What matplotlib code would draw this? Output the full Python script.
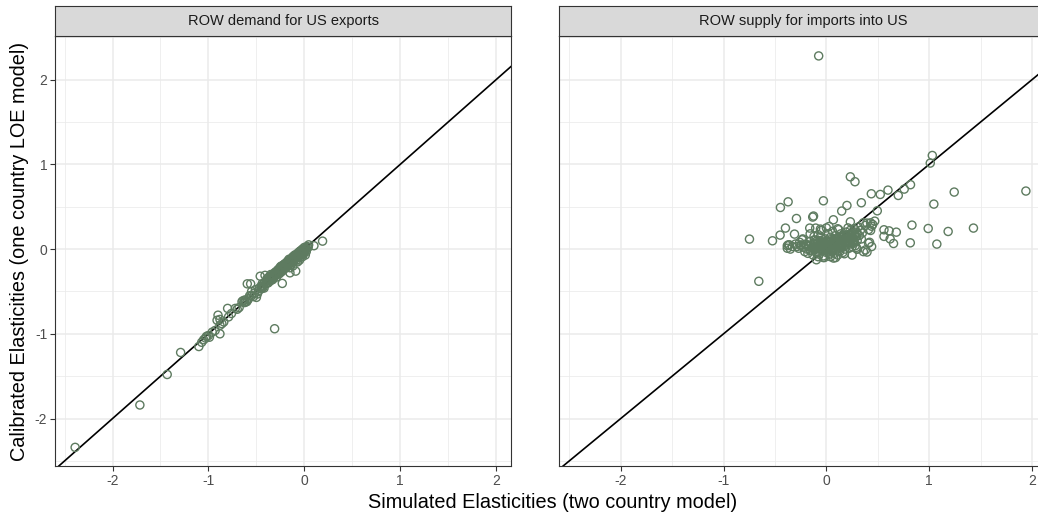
import numpy as np
import matplotlib.pyplot as plt
from matplotlib.ticker import MultipleLocator

plt.rcParams['font.family'] = ['Liberation Sans', 'DejaVu Sans']
plt.rcParams['axes.unicode_minus'] = False

# ROW demand for US exports: simulated (x) vs calibrated (y)
exp_x = [-2.39, -1.715, -1.43, -1.29, -1.10, -1.07, -1.05, -1.03, -1.02, -0.99, -1.00, -0.96,
         -0.93, -0.88, -0.90, -0.91, -0.88, -0.86, -0.84, -0.88, -0.80, -0.79, -0.76, -0.72,
         -0.70, -0.68, -0.65, -0.63, -0.62, -0.60, -0.58, -0.595, -0.56, -0.55, -0.52, -0.50,
         -0.48, -0.47, -0.46, -0.45, -0.43, -0.42, -0.41, -0.40, -0.38, -0.37, -0.36, -0.35,
         -0.31, -0.34, -0.33, -0.32, -0.30, -0.30, -0.29, -0.28, -0.27, -0.26, -0.25, -0.24,
         -0.23, -0.23, -0.22, -0.21, -0.20, -0.19, -0.18, -0.17, -0.16, -0.15, -0.15, -0.14,
         -0.13, -0.12, -0.11, -0.10, -0.09, -0.09, -0.08, -0.07, -0.06, -0.05, -0.04, -0.03,
         -0.02, -0.01, 0.00, 0.01, 0.02, 0.03, 0.045, 0.10, 0.19,
         -0.55, -0.53, -0.51, -0.49, -0.44, -0.42, -0.39, -0.37, -0.33, -0.31, -0.29, -0.27,
         -0.26, -0.25, -0.24, -0.22, -0.21, -0.20, -0.19, -0.18, -0.17, -0.16, -0.14, -0.13,
         -0.12, -0.11, -0.10, -0.08, -0.07, -0.06, -0.05, -0.04, -0.03, -0.02, -0.01, 0.00,
         0.02, 0.04, -0.12, -0.07, -0.15, -0.05, -0.02, 0.01]
exp_y = [-2.34, -1.84, -1.48, -1.22, -1.15, -1.10, -1.07, -1.05, -1.03, -1.04, -1.02, -0.98,
         -0.96, -1.00, -0.78, -0.84, -0.83, -0.88, -0.86, -0.90, -0.70, -0.80, -0.76, -0.70,
         -0.71, -0.69, -0.62, -0.63, -0.60, -0.62, -0.58, -0.41, -0.41, -0.55, -0.52, -0.57,
         -0.50, -0.46, -0.32, -0.44, -0.45, -0.40, -0.31, -0.38, -0.40, -0.33, -0.36, -0.30,
         -0.94, -0.35, -0.30, -0.32, -0.27, -0.31, -0.29, -0.25, -0.28, -0.23, -0.26, -0.20,
         -0.405, -0.24, -0.21, -0.18, -0.22, -0.17, -0.19, -0.14, -0.18, -0.28, -0.13, -0.15,
         -0.11, -0.14, -0.09, -0.12, -0.26, -0.07, -0.10, -0.05, -0.08, -0.03, -0.06, -0.02,
         -0.05, -0.01, -0.03, 0.01, 0.00, 0.03, 0.05, 0.04, 0.094,
         -0.50, -0.56, -0.48, -0.53, -0.41, -0.46, -0.35, -0.39, -0.36, -0.28, -0.33, -0.24,
         -0.29, -0.21, -0.27, -0.25, -0.23, -0.17, -0.22, -0.15, -0.20, -0.12, -0.19, -0.16,
         -0.09, -0.14, -0.07, -0.13, -0.09, -0.04, -0.10, -0.02, -0.07, 0.00, -0.06, 0.02,
         -0.03, 0.02, -0.20, -0.15, -0.22, -0.13, -0.09, -0.07]
# extra points in the dense band near zero
exp_x2 = [-0.34, -0.32, -0.30, -0.28, -0.27, -0.25, -0.23, -0.22, -0.20, -0.19, -0.17, -0.16,
          -0.15, -0.14, -0.13, -0.11, -0.10, -0.09, -0.08, -0.07, -0.06, -0.05, -0.04, -0.03,
          -0.02, -0.01, 0.00, 0.01, -0.45, -0.44, -0.40, -0.39, -0.36, -0.35, -0.57, -0.59,
          -0.62, -0.64]
exp_y2 = [-0.32, -0.34, -0.29, -0.30, -0.26, -0.24, -0.22, -0.19, -0.20, -0.19, -0.17, -0.15,
          -0.16, -0.13, -0.13, -0.11, -0.10, -0.11, -0.07, -0.07, -0.06, -0.06, -0.04, -0.04,
          -0.02, -0.03, 0.00, -0.02, -0.47, -0.44, -0.41, -0.38, -0.33, -0.37, -0.55, -0.60,
          -0.63, -0.61]

# ROW supply for imports into US
imp_x = [-0.075, 1.03, 1.01, 0.233, 0.278, 0.818, 0.757, 0.699, 0.599, 0.524, 0.437, 1.243,
         1.94, 1.045, 0.495, 0.34, 0.20, 0.149, -0.029, -0.372, -0.447, -0.291, -0.133, -0.125,
         0.068, -0.398, -0.45, -0.524, -0.748, -0.657, -0.31, 0.832, 0.99, 1.184, 1.43, 0.816,
         1.074, 0.56, 0.61, 0.68, 0.56, 0.62, 0.653, 0.395, 0.43, 0.45, 0.41, 0.41, 0.38, 0.36,
         0.30, 0.29, -0.097, 0.07, 0.175, -0.162, -0.104, -0.058, -0.158, -0.38, -0.38, -0.285,
         -0.246, -0.236, -0.117, 0.026, 0.12, 0.233, 0.28, 0.298, 0.395, 0.42, 0.43, -0.032,
         0.265, 0.21, 0.44, -0.37, -0.20, -0.08, 0.09, 0.25, 0.47, 0.44, 0.38, 0.36,
         -0.22, -0.21, -0.20, -0.19, -0.18, -0.17, -0.16, -0.15, -0.14, -0.13, -0.12, -0.11,
         -0.10, -0.09, -0.08, -0.07, -0.06, -0.05, -0.04, -0.03, -0.02, -0.01, 0.00, 0.00,
         0.01, 0.02, 0.03, 0.03, 0.04, 0.05, 0.05, 0.06, 0.07, 0.08, 0.08, 0.09,
         0.10, 0.10, 0.11, 0.12, 0.13, 0.13, 0.14, 0.15, 0.15, 0.16, 0.17, 0.18,
         0.18, 0.19, 0.20, 0.20, 0.21, 0.22, 0.23, 0.24, 0.25, 0.25, 0.26, 0.27,
         0.28, 0.29, 0.30, 0.31, 0.32, 0.33, 0.34, 0.35, -0.25, -0.27, -0.30, -0.33,
         -0.35, -0.36, -0.26, -0.23, -0.12, -0.06, 0.02, 0.06, 0.11, -0.02, 0.04, 0.11,
         0.16, 0.22, 0.28, -0.08, 0.00, -0.05]
imp_y = [2.28, 1.105, 1.015, 0.853, 0.795, 0.76, 0.708, 0.633, 0.696, 0.645, 0.653, 0.673,
         0.685, 0.531, 0.452, 0.547, 0.515, 0.449, 0.57, 0.558, 0.491, 0.361, 0.378, 0.39,
         0.346, 0.248, 0.165, 0.098, 0.118, -0.38, 0.177, 0.283, 0.243, 0.208, 0.248, 0.074,
         0.059, 0.228, 0.215, 0.20, 0.15, 0.12, 0.066, 0.307, 0.31, 0.29, 0.23, 0.07, -0.01, -0.03,
         0.00, 0.02, -0.126, -0.106, -0.055, 0.248, 0.248, 0.236, 0.18, 0.04, 0.01, 0.03,
         0.05, 0.11, 0.11, 0.267, 0.23, 0.322, 0.23, 0.00, -0.035, 0.08, 0.22, -0.099,
         0.11, 0.25, 0.03, 0.05, 0.05, -0.09, -0.10, -0.07, 0.33, 0.27, 0.28, 0.31,
         0.02, -0.03, 0.06, 0.00, -0.05, 0.04, 0.09, -0.02, 0.02, -0.07, 0.06, 0.00,
         -0.04, 0.10, 0.03, -0.06, 0.05, -0.01, 0.08, -0.08, 0.02, 0.12, -0.04, 0.06,
         0.00, 0.09, -0.06, 0.04, 0.14, -0.02, 0.07, 0.02, 0.11, -0.05, 0.05, 0.16,
         0.00, 0.09, 0.04, 0.13, -0.03, 0.07, 0.18, 0.02, 0.11, 0.06, 0.15, 0.00,
         0.09, 0.20, 0.05, 0.13, 0.17, 0.08, 0.22, 0.12, 0.03, 0.18, 0.09, 0.24,
         0.14, 0.20, 0.10, 0.26, 0.16, 0.22, 0.12, 0.19, 0.04, 0.01, 0.06, 0.03,
         0.00, 0.05, 0.08, 0.12, 0.15, 0.14, 0.18, 0.21, 0.24, -0.10, -0.09, -0.07,
         -0.04, 0.01, 0.04, 0.17, 0.25, 0.22]
# extra points filling the central blob
imp_x2 = [-0.15, -0.13, -0.11, -0.10, -0.09, -0.07, -0.06, -0.05, -0.04, -0.03, -0.02, -0.01,
          0.00, 0.01, 0.02, 0.03, 0.04, 0.05, 0.06, 0.07, 0.08, 0.09, 0.10, 0.11,
          0.12, 0.13, 0.14, 0.15, 0.16, 0.17, 0.18, 0.19, 0.20, 0.21, 0.22, 0.23,
          0.24, 0.26, 0.27, 0.29, 0.30, -0.18, -0.16, -0.12, -0.08, -0.03, 0.00, 0.02,
          0.06, 0.09, 0.11, 0.14, 0.17, 0.21, 0.24, 0.06, 0.12, -0.06, 0.04, 0.16]
imp_y2 = [0.05, 0.01, 0.07, 0.02, -0.03, 0.04, 0.00, 0.06, 0.02, -0.02, 0.07, 0.03,
          0.00, 0.05, 0.02, 0.08, -0.01, 0.04, 0.09, 0.01, 0.07, 0.03, 0.12, 0.06,
          0.01, 0.10, 0.05, 0.14, 0.09, 0.03, 0.13, 0.07, 0.16, 0.10, 0.14, 0.06,
          0.17, 0.13, 0.07, 0.15, 0.18, 0.03, -0.01, 0.03, 0.06, 0.05, 0.09, -0.02,
          0.05, 0.08, 0.11, 0.08, 0.11, 0.13, 0.10, -0.03, 0.05, 0.10, 0.11, 0.16]

titles = ['ROW demand for US exports', 'ROW supply for imports into US']
xlim = (-2.6, 2.155)
ylim = (-2.56, 2.515)
pt_col = '#5E7B60'

fig = plt.figure(figsize=(10.38, 5.17), dpi=100)
W, H = 1038, 517
# panel boxes in pixels: left, right
boxes = [(55, 511), (559, 1048)]
top, bot = 36, 466

panels = [(exp_x + exp_x2, exp_y + exp_y2), (imp_x + imp_x2, imp_y + imp_y2)]

for i, ((x0, x1), (xs, ys)) in enumerate(zip(boxes, panels)):
    ax = fig.add_axes([x0 / W, (H - bot) / H, (x1 - x0) / W, (bot - top) / H])
    ax.set_xlim(xlim)
    ax.set_ylim(ylim)
    ax.xaxis.set_major_locator(MultipleLocator(1))
    ax.yaxis.set_major_locator(MultipleLocator(1))
    ax.xaxis.set_minor_locator(MultipleLocator(0.5))
    ax.yaxis.set_minor_locator(MultipleLocator(0.5))
    ax.grid(which='major', color='#EBEBEB', lw=1.1)
    ax.grid(which='minor', color='#EBEBEB', lw=0.55)
    ax.set_axisbelow(True)
    ax.tick_params(which='minor', length=0)
    ax.tick_params(which='major', length=3.5, width=0.8, color='#333333',
                   labelcolor='#4D4D4D', labelsize=10, pad=2)
    for s in ax.spines.values():
        s.set_color('#333333')
        s.set_linewidth(0.8)
    if i > 0:
        ax.tick_params(axis='y', left=False, labelleft=False)

    ax.axline((0, 0), slope=1, color='black', lw=1.2, zorder=2)
    ax.scatter(xs, ys, s=34, facecolors='none', edgecolors=pt_col, linewidths=1.0, zorder=3)

    # facet strip
    sax = fig.add_axes([x0 / W, (H - top) / H, (x1 - x0) / W, 30 / H])
    sax.set_facecolor('#D9D9D9')
    sax.set_xticks([])
    sax.set_yticks([])
    for s in sax.spines.values():
        s.set_color('#333333')
        s.set_linewidth(0.8)
    sax.text(0.5, 0.5, titles[i], ha='center', va='center', fontsize=10.5, color='#1A1A1A',
             transform=sax.transAxes)

fig.text(553 / W, 14 / H, 'Simulated Elasticities (two country model)', ha='center',
         va='center', fontsize=14.3)
fig.text(20 / W, (H - 251) / H, 'Calibrated Elasticities (one country LOE model)', ha='center',
         va='center', rotation=90, fontsize=14.3)

fig.savefig('out.png', dpi=100)
